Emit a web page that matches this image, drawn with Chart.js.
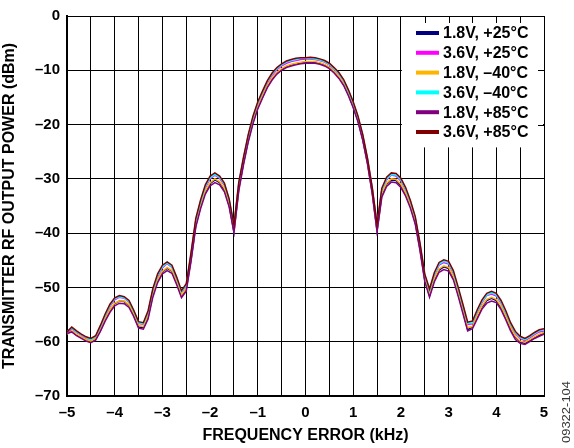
<!DOCTYPE html>
<html>
<head>
<meta charset="utf-8">
<script src="https://cdn.jsdelivr.net/npm/chart.js@4.4.1/dist/chart.umd.min.js"></script>
<style>
  html, body { margin: 0; padding: 0; background: #fff; }
  canvas { display: block; }
</style>
</head>
<body>
<canvas id="myChart" width="574" height="448"></canvas>
<script>
// Frequency error (kHz), one point every 0.1 kHz
const freqs = [
  -5.0, -4.9, -4.8, -4.7, -4.6, -4.5, -4.4, -4.3, -4.2, -4.1,
  -4.0, -3.9, -3.8, -3.7, -3.6, -3.5, -3.4, -3.3, -3.2, -3.1,
  -3.0, -2.9, -2.8, -2.7, -2.6, -2.5, -2.4, -2.3, -2.2, -2.1,
  -2.0, -1.9, -1.8, -1.7, -1.6, -1.5, -1.4, -1.3, -1.2, -1.1,
  -1.0, -0.9, -0.8, -0.7, -0.6, -0.5, -0.4, -0.3, -0.2, -0.1,
  0.0, 0.1, 0.2, 0.3, 0.4, 0.5, 0.6, 0.7, 0.8, 0.9,
  1.0, 1.1, 1.2, 1.3, 1.4, 1.5, 1.6, 1.7, 1.8, 1.9,
  2.0, 2.1, 2.2, 2.3, 2.4, 2.5, 2.6, 2.7, 2.8, 2.9,
  3.0, 3.1, 3.2, 3.3, 3.4, 3.5, 3.6, 3.7, 3.8, 3.9,
  4.0, 4.1, 4.2, 4.3, 4.4, 4.5, 4.6, 4.7, 4.8, 4.9,
  5.0
];

// Output power (dBm) per supply / temperature
const v18_p25 = [
  -58.0, -58.1, -58.8, -59.2, -59.6, -60.0, -59.5, -57.9, -55.9, -54.2,
  -53.0, -52.5, -52.6, -53.3, -55.1, -57.3, -57.4, -55.4, -51.3, -48.7,
  -47.1, -46.5, -47.0, -49.2, -51.6, -50.3, -44.9, -38.6, -35.1, -32.4,
  -30.9, -30.2, -30.7, -32.0, -34.9, -39.8, -31.9, -27.1, -22.9, -19.5,
  -16.8, -14.9, -12.9, -11.5, -10.5, -9.8, -9.3, -9.0, -8.8, -8.6,
  -8.5, -8.5, -8.5, -8.7, -9.0, -9.5, -10.3, -11.3, -12.6, -14.5,
  -16.7, -19.3, -22.7, -27.1, -32.6, -39.6, -32.9, -31.0, -30.2, -30.3,
  -31.2, -32.9, -35.0, -38.0, -42.9, -48.6, -51.5, -48.6, -46.8, -46.2,
  -46.5, -48.2, -51.2, -54.4, -57.8, -57.3, -55.4, -53.6, -52.4, -52.0,
  -52.4, -53.7, -55.6, -57.6, -59.2, -60.0, -60.3, -59.8, -59.2, -58.8,
  -58.4
];
const v36_p25 = [
  -58.4, -57.6, -58.3, -58.8, -59.3, -59.6, -59.1, -57.4, -55.3, -53.5,
  -52.3, -51.8, -52.0, -52.7, -54.5, -56.6, -56.8, -54.7, -50.7, -48.0,
  -46.4, -45.6, -46.3, -48.5, -50.9, -49.7, -44.1, -37.8, -34.4, -31.6,
  -30.0, -29.3, -29.9, -31.2, -34.1, -38.9, -31.1, -26.4, -22.2, -18.8,
  -16.2, -14.2, -12.3, -10.9, -9.9, -9.2, -8.7, -8.4, -8.2, -8.0,
  -7.9, -7.9, -8.0, -8.2, -8.5, -9.0, -9.8, -10.7, -12.0, -13.9,
  -16.1, -18.7, -22.1, -26.5, -31.9, -38.7, -32.1, -30.2, -29.3, -29.5,
  -30.4, -32.1, -34.4, -37.3, -42.2, -47.9, -50.7, -47.8, -45.9, -45.4,
  -45.7, -47.4, -50.4, -53.6, -56.8, -56.7, -54.6, -52.8, -51.5, -51.2,
  -51.6, -52.9, -54.8, -56.9, -58.5, -59.4, -59.8, -59.3, -58.7, -58.2,
  -58.0
];
const v18_m40 = [
  -58.6, -58.0, -58.6, -59.2, -59.6, -59.9, -59.4, -57.8, -55.8, -54.1,
  -52.9, -52.5, -52.5, -53.2, -54.9, -57.0, -57.2, -55.2, -51.2, -48.6,
  -47.0, -46.3, -46.9, -49.0, -51.4, -50.2, -44.7, -38.4, -35.0, -32.2,
  -30.7, -30.0, -30.5, -31.8, -34.7, -39.4, -31.7, -27.0, -22.8, -19.4,
  -16.7, -14.7, -12.8, -11.4, -10.4, -9.7, -9.2, -8.9, -8.7, -8.5,
  -8.4, -8.4, -8.4, -8.6, -8.9, -9.4, -10.2, -11.2, -12.5, -14.4,
  -16.6, -19.2, -22.6, -27.0, -32.4, -39.2, -32.7, -30.8, -30.0, -30.1,
  -31.0, -32.7, -34.9, -37.8, -42.7, -48.4, -51.2, -48.4, -46.6, -46.0,
  -46.3, -48.0, -51.0, -54.2, -57.4, -57.2, -55.2, -53.4, -52.2, -51.8,
  -52.2, -53.5, -55.4, -57.4, -59.0, -59.9, -60.1, -59.6, -59.1, -58.6,
  -58.3
];
const v36_m40 = [
  -58.1, -57.5, -58.2, -58.7, -59.2, -59.6, -59.0, -57.2, -55.1, -53.3,
  -52.1, -51.7, -51.9, -52.6, -54.4, -56.5, -56.7, -54.5, -50.5, -47.8,
  -46.2, -45.5, -46.2, -48.3, -50.8, -49.6, -43.9, -37.6, -34.2, -31.4,
  -29.8, -29.2, -29.7, -31.0, -33.9, -38.7, -30.9, -26.2, -22.0, -18.6,
  -16.0, -14.0, -12.1, -10.7, -9.7, -9.0, -8.5, -8.2, -8.0, -7.8,
  -7.8, -7.8, -7.9, -8.1, -8.4, -8.9, -9.7, -10.6, -11.9, -13.8,
  -16.0, -18.6, -22.0, -26.4, -31.8, -38.6, -32.0, -30.0, -29.2, -29.3,
  -30.2, -31.9, -34.2, -37.1, -42.0, -47.7, -50.6, -47.6, -45.7, -45.2,
  -45.5, -47.2, -50.2, -53.4, -56.6, -56.5, -54.4, -52.6, -51.4, -51.0,
  -51.4, -52.7, -54.6, -56.7, -58.3, -59.2, -59.6, -59.1, -58.5, -58.0,
  -57.8
];
const v18_p85 = [
  -58.5, -58.2, -58.9, -59.4, -59.9, -60.2, -59.7, -58.1, -56.2, -54.6,
  -53.4, -52.9, -53.0, -53.7, -55.4, -57.5, -57.7, -55.8, -51.8, -49.1,
  -47.5, -46.9, -47.4, -49.5, -51.9, -50.7, -45.2, -38.9, -35.5, -32.8,
  -31.3, -30.7, -31.1, -32.4, -35.2, -39.9, -32.3, -27.4, -23.2, -19.8,
  -17.1, -15.1, -13.2, -11.8, -10.7, -10.0, -9.5, -9.2, -9.0, -8.8,
  -8.7, -8.7, -8.7, -8.9, -9.2, -9.7, -10.5, -11.5, -12.8, -14.7,
  -16.9, -19.5, -22.9, -27.3, -32.8, -39.7, -33.4, -31.4, -30.6, -30.7,
  -31.6, -33.2, -35.4, -38.3, -43.2, -48.9, -51.8, -49.0, -47.2, -46.7,
  -47.0, -48.6, -51.6, -54.8, -58.0, -57.6, -55.8, -54.0, -52.9, -52.5,
  -52.8, -54.1, -56.0, -58.0, -59.6, -60.3, -60.5, -60.0, -59.4, -59.0,
  -58.6
];
const v36_p85 = [
  -58.2, -57.3, -58.0, -58.6, -59.1, -59.4, -58.9, -57.0, -54.9, -53.1,
  -51.9, -51.5, -51.7, -52.4, -54.2, -56.3, -56.5, -54.3, -50.2, -47.5,
  -45.9, -45.3, -45.9, -48.1, -50.6, -49.3, -43.6, -37.3, -33.9, -31.1,
  -29.5, -28.9, -29.5, -30.8, -33.7, -38.5, -30.7, -26.0, -21.8, -18.4,
  -15.8, -13.8, -11.9, -10.5, -9.5, -8.8, -8.3, -8.0, -7.8, -7.7,
  -7.7, -7.6, -7.7, -7.9, -8.2, -8.7, -9.5, -10.4, -11.7, -13.6,
  -15.8, -18.4, -21.8, -26.2, -31.6, -38.3, -31.7, -29.7, -28.9, -29.0,
  -29.9, -31.6, -34.0, -36.9, -41.8, -47.5, -50.3, -47.3, -45.4, -44.9,
  -45.2, -46.9, -49.9, -53.1, -56.4, -56.2, -54.1, -52.3, -51.1, -50.7,
  -51.1, -52.4, -54.3, -56.5, -58.1, -59.0, -59.4, -58.9, -58.3, -57.8,
  -57.6
];

const seriesLabels = ['1.8V, +25°C', '3.6V, +25°C', '1.8V, \u201340°C', '3.6V, \u201340°C', '1.8V, +85°C', '3.6V, +85°C'];
const seriesValues = [v18_p25, v36_p25, v18_m40, v36_m40, v18_p85, v36_p85];
const seriesColors = ['#000080', '#ff00ff', '#ffb400', '#00ffff', '#800080', '#800000'];

const xTitle = 'FREQUENCY ERROR (kHz)';
const yTitle = 'TRANSMITTER RF OUTPUT POWER (dBm)';
const figureId = '09322-104';

const FONT = '"Liberation Sans", Arial, Helvetica, sans-serif';

// dash instead of minus, like the original figure
function fmt(v) {
    return v < 0 ? '\u2013' + Math.abs(v) : String(v);
}

// legend sits in a white box inside the plot, top right
const insideLegend = {
    id: 'insideLegend',
    beforeDatasetsDraw(chart) {
        const { ctx, chartArea, scales } = chart;
        const x0 = scales.x.getPixelForValue(2) + 1;
        const y0 = chartArea.top + 1;
        const y1 = scales.y.getPixelForValue(-24.2);
        ctx.save();
        ctx.fillStyle = '#fff';
        ctx.fillRect(x0, y0, chartArea.right - 1 - x0, y1 - y0);
        // small inward ticks left on the frame
        ctx.strokeStyle = '#000';
        ctx.lineWidth = 1;
        ctx.beginPath();
        [2.5, 3, 3.5, 4, 4.5].forEach(v => {
            const px = Math.round(scales.x.getPixelForValue(v)) + 0.5;
            ctx.moveTo(px, chartArea.top);
            ctx.lineTo(px, chartArea.top + 7);
        });
        [-10, -20].forEach(v => {
            const py = Math.round(scales.y.getPixelForValue(v)) + 0.5;
            ctx.moveTo(chartArea.right, py);
            ctx.lineTo(chartArea.right - 6, py);
        });
        ctx.stroke();

        ctx.font = 'bold 16px ' + FONT;
        ctx.textBaseline = 'middle';
        ctx.textAlign = 'left';
        seriesLabels.forEach((label, i) => {
            const y = 33 + i * 19.8;
            ctx.strokeStyle = seriesColors[i];
            ctx.lineWidth = 4;
            ctx.beginPath();
            ctx.moveTo(416, y);
            ctx.lineTo(439, y);
            ctx.stroke();
            ctx.fillStyle = '#000';
            ctx.fillText(label, 443, y + 1);
        });
        ctx.restore();
    },
    afterDraw(chart) {
        const { ctx } = chart;
        ctx.save();
        ctx.translate(567, 412);
        ctx.rotate(-Math.PI / 2);
        ctx.scale(1.3, 1);
        ctx.font = '10px ' + FONT;
        ctx.fillStyle = '#333';
        ctx.textAlign = 'center';
        ctx.textBaseline = 'middle';
        ctx.fillText(figureId, 0, 0);
        ctx.restore();
    }
};

const ctx = document.getElementById('myChart');

const myChart = new Chart(ctx, {
    type: 'line',
    data: {
        datasets: seriesValues.map((vals, i) => ({
            label: seriesLabels[i],
            data: vals.map((v, j) => ({ x: freqs[j], y: v })),
            borderColor: seriesColors[i],
            borderWidth: 1.5,
            pointRadius: 0,
            tension: 0,
            order: 5 - i
        }))
    },
    options: {
        responsive: false,
        animation: false,
        layout: { padding: { top: 13, right: 30, left: 0, bottom: 0 } },
        plugins: {
            legend: { display: false },
            tooltip: { enabled: false }
        },
        scales: {
            x: {
                type: 'linear',
                min: -5,
                max: 5,
                afterFit: s => { s.height = 52; },
                ticks: {
                    stepSize: 0.5,
                    autoSkip: false,
                    maxRotation: 0,
                    padding: 8,
                    color: '#000',
                    font: { family: FONT, size: 15, weight: 'bold' },
                    callback: v => Number.isInteger(v) ? fmt(v) : ''
                },
                grid: { color: '#000', lineWidth: 1, drawTicks: false },
                border: { color: '#000', width: 2 },
                title: {
                    display: true,
                    text: xTitle,
                    color: '#000',
                    font: { family: FONT, size: 16, weight: 'bold' },
                    padding: { top: 0, bottom: 3 }
                }
            },
            y: {
                min: -70,
                max: 0,
                afterFit: s => { s.width = 67; },
                ticks: {
                    stepSize: 10,
                    padding: 7,
                    color: '#000',
                    font: { family: FONT, size: 15, weight: 'bold' },
                    callback: v => fmt(v)
                },
                grid: { color: '#000', lineWidth: 1, drawTicks: false },
                border: { color: '#000', width: 2 },
                title: {
                    display: true,
                    text: yTitle,
                    color: '#000',
                    font: { family: FONT, size: 16, weight: 'bold' },
                    padding: { top: 0, bottom: 0 }
                }
            }
        }
    },
    plugins: [insideLegend]
});
</script>
</body>
</html>
